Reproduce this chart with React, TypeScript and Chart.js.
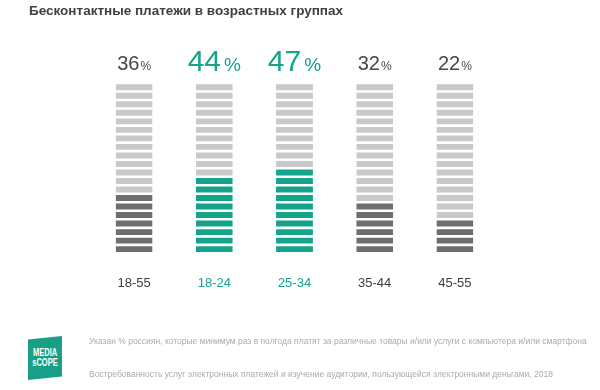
import React, { useEffect, useRef } from "react";
import { Chart, registerables } from "chart.js";

Chart.register(...registerables);

// ---- data ----
const categories = ["18-55", "18-24", "25-34", "35-44", "45-55"];
const percents = [36, 44, 47, 32, 22];
const filledStripes = [7, 9, 10, 6, 4];
const totalStripes = 20;
const highlighted = [false, true, true, false, false];

const titleText = "Бесконтактные платежи в возрастных группах";
const note1 =
  "Указан % россиян, которые минимум раз в полгода платят за различные товары и/или услуги с компьютера и/или смартфона";
const note2 =
  "Востребованность услуг электронных платежей и изучение аудитории, пользующейся электронными деньгами, 2018";

// ---- styles ----
const TEAL = "#15a38b";
const DARK = "#6e6e6e";
const LIGHT = "#c9c9c9";
const TEXT_GRAY = "#474747";
const FONT = "'Liberation Sans', Arial, sans-serif";

const pctPlugin = {
  id: "pctLabels",
  afterDatasetsDraw(chart: any) {
    const { ctx, chartArea, scales } = chart;
    const x = scales.x;
    percents.forEach((p, i) => {
      const hi = highlighted[i];
      const numSize = hi ? 30 : 20;
      const pSize = hi ? 19 : 12;
      const gap = hi ? 3 : 1;
      ctx.save();
      ctx.font = `${numSize}px ${FONT}`;
      const nw = ctx.measureText(String(p)).width;
      ctx.font = `${pSize}px ${FONT}`;
      const pw = ctx.measureText("%").width;
      const total = nw + gap + pw;
      const cx = x.getPixelForValue(i);
      const left = cx - total / 2;
      const by = chartArea.top - (hi ? 12 : 13);
      ctx.fillStyle = hi ? TEAL : TEXT_GRAY;
      ctx.textBaseline = "alphabetic";
      ctx.textAlign = "left";
      ctx.font = `${numSize}px ${FONT}`;
      ctx.fillText(String(p), left, by);
      ctx.font = `${pSize}px ${FONT}`;
      ctx.fillText("%", left + nw + gap, by);
      ctx.restore();
    });
  },
};

function StripeChart() {
  const ref = useRef<HTMLCanvasElement | null>(null);
  useEffect(() => {
    if (!ref.current) return;
    const datasets = Array.from({ length: totalStripes }, (_, k) => ({
      label: "stripe " + (k + 1),
      data: categories.map(() => 1),
      backgroundColor: categories.map((_, i) =>
        k < filledStripes[i] ? (highlighted[i] ? TEAL : DARK) : LIGHT
      ),
      borderColor: "#ffffff",
      borderWidth: { top: 1.3, bottom: 1.3, left: 0, right: 0 },
      borderSkipped: false,
      barPercentage: 0.46,
      categoryPercentage: 1,
    }));
    const chart = new Chart(ref.current, {
      type: "bar",
      data: { labels: categories, datasets },
      options: {
        animation: false,
        responsive: false,
        maintainAspectRatio: false,
        layout: { padding: { left: 94, right: 105, top: 83, bottom: 77 } },
        plugins: { legend: { display: false }, tooltip: { enabled: false } },
        scales: {
          x: {
            stacked: true,
            grid: { display: false, drawTicks: false },
            border: { display: false },
            ticks: {
              padding: 22,
              font: { family: FONT, size: 13 },
              color: (c: any) => (highlighted[c.index] ? TEAL : "#3c3c3c"),
            },
          },
          y: {
            stacked: true,
            display: false,
            min: 0,
            max: totalStripes,
          },
        },
      },
      plugins: [pctPlugin],
    } as any);
    return () => chart.destroy();
  }, []);
  return <canvas ref={ref} width={600} height={390} style={{ position: "absolute", left: 0, top: 0 }} />;
}

export default function App() {
  return (
    <div
      style={{
        position: "fixed",
        left: 0,
        top: 0,
        width: 600,
        height: 390,
        background: "#fff",
        overflow: "hidden",
        fontFamily: FONT,
      }}
    >
      <StripeChart />
      <div
        style={{
          position: "absolute",
          left: 29,
          top: 3,
          fontSize: 13.5,
          lineHeight: "15px",
          fontWeight: "bold",
          color: "#404040",
          whiteSpace: "nowrap",
        }}
      >
        {titleText}
      </div>
      <div
        style={{
          position: "absolute",
          left: 28,
          top: 336,
          width: 34,
          height: 44,
          background: "#17a086",
          clipPath: "polygon(0 8%, 100% 0, 100% 92%, 0 100%)",
          color: "#fff",
          display: "flex",
          flexDirection: "column",
          alignItems: "center",
          justifyContent: "center",
          fontSize: 10,
          lineHeight: "10px",
          fontWeight: "bold",
        }}
      >
        <span style={{ transform: "scaleX(0.75)" }}>MEDIA</span>
        <span style={{ transform: "scaleX(0.75)" }}>sCOPE</span>
      </div>
      <div
        style={{
          position: "absolute",
          left: 89,
          top: 336,
          fontSize: 8.5,
          lineHeight: "10px",
          color: "#ababab",
          whiteSpace: "nowrap",
        }}
      >
        {note1}
      </div>
      <div
        style={{
          position: "absolute",
          left: 89,
          top: 369,
          fontSize: 8.5,
          lineHeight: "10px",
          color: "#ababab",
          whiteSpace: "nowrap",
        }}
      >
        {note2}
      </div>
    </div>
  );
}
